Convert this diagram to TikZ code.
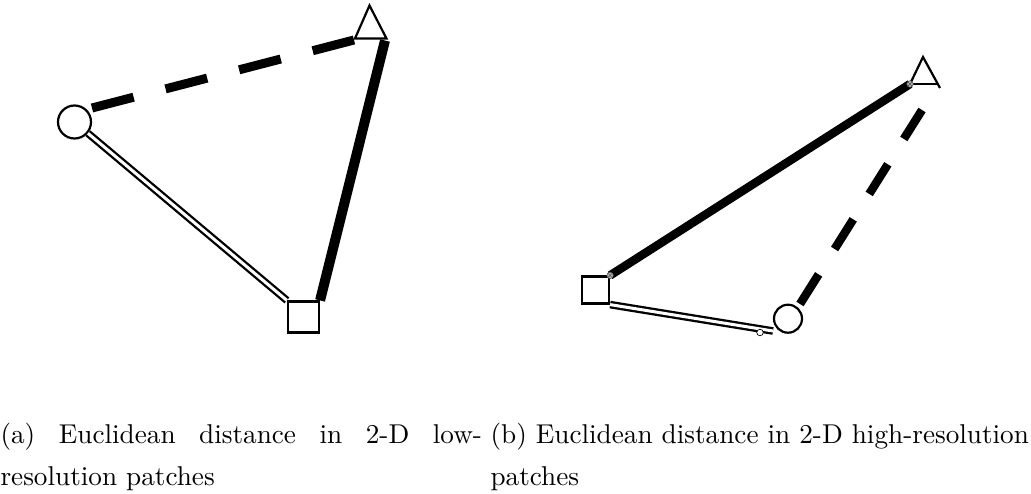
\documentclass[tikz,border=0pt]{standalone}
\usetikzlibrary{calc}
\begin{document}
\begin{tikzpicture}[x=1pt,y=-1pt,
  shapeline/.style={draw=black, line width=2.2pt},
  thickline/.style={line width=10pt, line cap=butt},
  thickB/.style={line width=8.5pt, line cap=butt},
  dashA/.style={line width=9pt, dash pattern=on 43pt off 33pt},
  dashB/.style={line width=8.5pt, dash pattern=on 35pt off 30pt},
  dbl/.style={double=white, line width=2.3pt, double distance=3pt},
  marker/.style={circle, draw=black!70, line width=0.5pt, fill=gray!60, inner sep=0pt, minimum size=6.5pt,
    path picture={\draw[black!70, line width=0.4pt] (path picture bounding box.north west) -- (path picture bounding box.south east) (path picture bounding box.north east) -- (path picture bounding box.south west);}},
  whitemark/.style={circle, draw=black, line width=0.7pt, fill=white, inner sep=0pt, minimum size=6.5pt},
  captext/.style={anchor=base west, inner sep=0pt, scale=2.72}
]
\useasboundingbox (0,0) rectangle (1031,493);

% ---------- panel (a) ----------
\node[circle, shapeline, minimum size=33pt, inner sep=0pt] (cA) at (74.5,122) {};
\node[rectangle, shapeline, minimum size=31pt, inner sep=0pt] (sA) at (303.5,317) {};
\coordinate (tA1) at (355,38.5);
\coordinate (tAtop) at (369.5,5.5);
\coordinate (tA2) at (386.5,38.5);
\draw[shapeline, line join=miter] (tA1) -- (tAtop) -- (tA2) -- cycle;

\coordinate (dA0) at (92,108);
\coordinate (dA1) at (354,40);
\draw[dashA] (dA0) -- (dA1);
\coordinate (kA0) at (385,40.5);
\draw[thickline] (kA0) -- (sA.north east);
\draw[dbl] (cA) -- (sA.north west);

% ---------- panel (b) ----------
\node[rectangle, shapeline, minimum size=27pt, inner sep=0pt] (sB) at (595.5,290) {};
\node[circle, shapeline, minimum size=28pt, inner sep=0pt] (cB) at (788,318.7) {};
\coordinate (tB1) at (910,84);
\coordinate (tBtop) at (923,57);
\coordinate (tB2) at (940,88);
\coordinate (tB3) at (936.5,84);
\draw[shapeline] (tB1) -- (tBtop) -- (tB2);
\draw[shapeline] (tB1) -- (tB3);

\draw[thickB] (sB.north east) -- (tB1);
\node[marker] (mB1) at (sB.north east) {};
\node[marker] (mB2) at (tB1) {};

\coordinate (dB1) at (773,331);
\draw[dbl] (sB.south east) -- (dB1);
\node[whitemark] (wB) at (760,332.5) {};

\coordinate (eB0) at (800,304);
\coordinate (eB1) at (922,110);
\draw[dashB] (eB0) -- (eB1);

% ---------- captions ----------
\node[captext] (capA1) at (0,443) {\hbox to 177pt{(a) Euclidean distance in 2-D low-}};
\node[captext] (capA2) at (0,485) {resolution patches};
\node[captext] (capB1) at (490,443) {(b) Euclidean distance in 2-D high-resolution};
\node[captext] (capB2) at (490,485) {patches};
\end{tikzpicture}
\end{document}
